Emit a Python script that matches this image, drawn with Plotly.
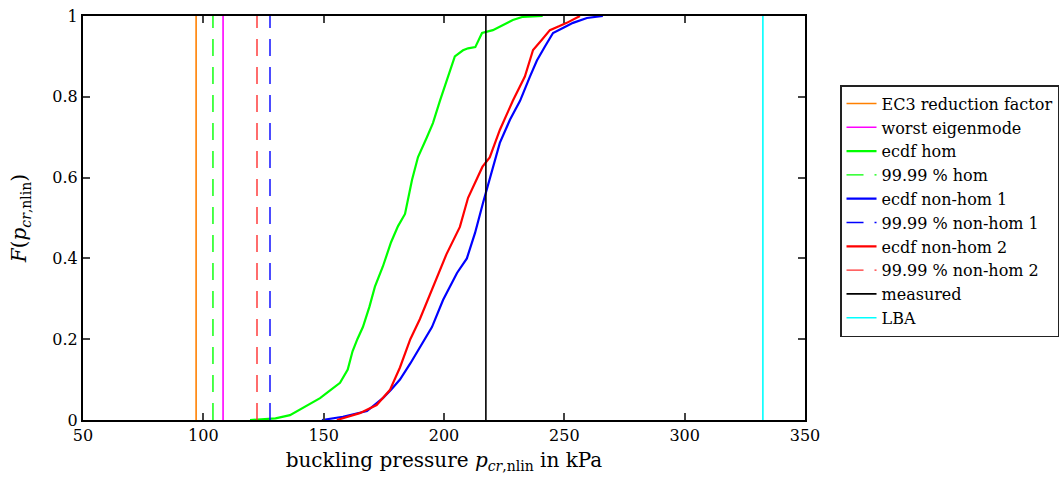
import plotly.graph_objects as go

# vertical reference values (kPa)
ec3 = 97.0
worst_eig = 108.2
q_hom = 104.0
q_nh1 = 127.7
q_nh2 = 122.3
measured = 217.4
lba = 332.5

# ecdf hom
hom_p = [119.4, 130, 136, 140, 144, 148.5, 152, 156.8, 160, 162, 164, 166.3, 169, 171.3, 174.6, 178.0, 180.9, 183.8, 186.7,
         189.2, 192.9, 195.4, 198.3, 201, 204.5, 207.9, 210, 213.0, 215.8, 220.3, 228.6, 232.8, 241]
hom_F = [0.0, 0.004, 0.012, 0.025, 0.038, 0.054, 0.07, 0.092, 0.125, 0.17, 0.20, 0.23, 0.28, 0.33, 0.38, 0.44, 0.48, 0.51, 0.594,
         0.651, 0.70, 0.735, 0.79, 0.84, 0.90, 0.915, 0.92, 0.923, 0.958, 0.965, 0.99, 0.998, 1.0]

# ecdf non-hom 1
nh1_p = [149.3, 158, 168, 174.6, 178, 181.7, 186, 190, 195, 199.6, 205.4, 209.5, 212.9, 216.2, 219, 223.2, 227.4, 231.6,
         235.7, 238.6, 242, 245.3, 250, 253.6, 259.4, 266]
nh1_F = [0.0, 0.008, 0.022, 0.054, 0.075, 0.10, 0.14, 0.18, 0.23, 0.297, 0.364, 0.40, 0.463, 0.537, 0.594, 0.686, 0.743, 0.79,
         0.85, 0.89, 0.925, 0.958, 0.972, 0.983, 0.995, 1.0]

# ecdf non-hom 2
nh2_p = [155.5, 160, 165, 172, 177.5, 181.7, 186, 190, 195.4, 201, 206.6, 210, 216, 219, 223.2, 228.6, 233.6, 237.0,
         240.5, 244, 248, 251, 256.5]
nh2_F = [0.0, 0.008, 0.017, 0.037, 0.074, 0.13, 0.20, 0.25, 0.33, 0.41, 0.478, 0.55, 0.627, 0.65, 0.718, 0.79, 0.85, 0.916,
         0.94, 0.965, 0.975, 0.983, 1.0]

x_ticks = [50, 100, 150, 200, 250, 300, 350]
y_ticks = [0, 0.2, 0.4, 0.6, 0.8, 1]
y_tick_text = ["0", "0.2", "0.4", "0.6", "0.8", "1"]

fig = go.Figure()

def vline(x, name, color, dash="solid", width=1.6):
    fig.add_trace(go.Scatter(x=[x, x], y=[0, 1], mode="lines", name=name,
                             line=dict(color=color, width=width, dash=dash)))

DASH = "17px,11px"
vline(ec3, "EC3 reduction factor", "#ff8000")
vline(worst_eig, "worst eigenmode", "#ff00ff")
fig.add_trace(go.Scatter(x=hom_p, y=hom_F, mode="lines", name="ecdf hom",
                         line=dict(color="#00ff00", width=2.2)))
vline(q_hom, "99.99 % hom", "#00ff00", DASH, 1.4)
fig.add_trace(go.Scatter(x=nh1_p, y=nh1_F, mode="lines", name="ecdf non-hom 1",
                         line=dict(color="#0000ff", width=2.2)))
vline(q_nh1, "99.99 % non-hom 1", "#0000ff", DASH, 1.4)
fig.add_trace(go.Scatter(x=nh2_p, y=nh2_F, mode="lines", name="ecdf non-hom 2",
                         line=dict(color="#ff0000", width=2.2)))
vline(q_nh2, "99.99 % non-hom 2", "#ff3030", DASH, 1.4)
vline(measured, "measured", "#000000")
vline(lba, "LBA", "#00ffff")

font_family = "DejaVu Serif"
fig.update_layout(
    width=1064, height=490,
    margin=dict(l=83, r=259, t=16, b=70, autoexpand=False),
    paper_bgcolor="white", plot_bgcolor="white",
    font=dict(family=font_family, size=16, color="black"),
    showlegend=True,
    legend=dict(x=1.0485, y=0.829, xanchor="left", yanchor="top",
                bordercolor="#222222", borderwidth=1.5, bgcolor="white",
                font=dict(size=16, family=font_family), tracegroupgap=0,
                itemwidth=30),
    xaxis=dict(range=[50, 350], tickvals=x_ticks, ticks="inside", ticklen=7, tickwidth=2,
               showline=True, linecolor="black", linewidth=2, mirror="ticks",
               showgrid=False, zeroline=False, automargin=False,
               title=dict(text="buckling pressure <i>p</i><sub><i>cr</i>,nlin</sub> in kPa",
                          standoff=9, font=dict(size=20))),
    yaxis=dict(range=[0, 1], tickvals=y_ticks, ticktext=y_tick_text, ticks="inside", ticklen=7, tickwidth=2,
               showline=True, linecolor="black", linewidth=2, mirror="ticks",
               showgrid=False, zeroline=False, automargin=False,
               title=dict(text="<i>F</i>(<i>p</i><sub><i>cr</i>,nlin</sub>)", standoff=20, font=dict(size=20))),
)

fig.write_html("out.html")
